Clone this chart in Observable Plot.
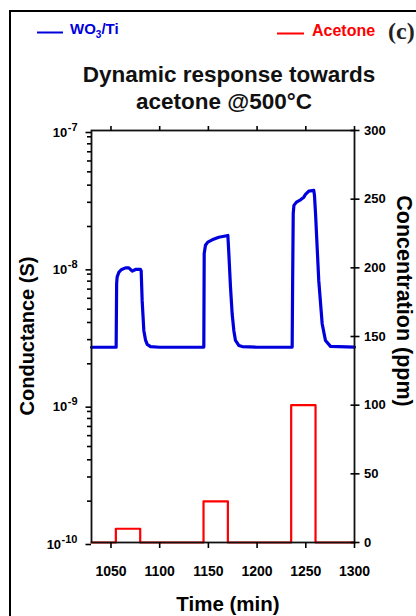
<!DOCTYPE html>
<html><head><meta charset="utf-8">
<script src="https://cdn.jsdelivr.net/npm/d3@7"></script>
<script src="https://cdn.jsdelivr.net/npm/@observablehq/plot@0.6"></script>
<style>
body{margin:0;background:#fff}
#chart{position:relative;width:416px;height:616px;overflow:hidden}
</style>
</head><body><div id="chart"></div>
<script>
// ---- data ----
const timeMin = [1030, 1055.3, 1055.8, 1056.3, 1058.0, 1060.5, 1064.9, 1068.3, 1071.8, 1075.2, 1080.3, 1081.0, 1082.0, 1083.7, 1085.4, 1087.2, 1090.6, 1100, 1120,
  1145.3, 1145.7, 1147.0, 1149.4, 1153.9, 1160.7, 1170.0, 1171.0, 1172.7, 1174.4, 1176.1, 1177.8, 1181.2, 1184.7, 1200, 1220,
  1236.0, 1236.5, 1237.1, 1237.8, 1240.4, 1244.6, 1248.0, 1249.7, 1253.1, 1258.2, 1258.9, 1260.0, 1263.3, 1266.8, 1270.2, 1275.4, 1300];
const conductance = [2.64e-9, 2.64e-9, 7.66e-9, 8.56e-9, 9.26e-9, 9.68e-9, 1.0e-8, 1.0e-8, 9.46e-9, 9.73e-9, 9.73e-9, 9.5e-9, 5.79e-9, 3.5e-9, 2.99e-9, 2.77e-9, 2.67e-9, 2.64e-9, 2.64e-9,
  2.65e-9, 1.27e-8, 1.46e-8, 1.54e-8, 1.6e-8, 1.67e-8, 1.72e-8, 1.27e-8, 7.23e-9, 4.63e-9, 3.5e-9, 2.96e-9, 2.72e-9, 2.67e-9, 2.64e-9, 2.64e-9,
  2.65e-9, 8.1e-9, 2.49e-8, 2.85e-8, 3.01e-8, 3.13e-8, 3.27e-8, 3.43e-8, 3.62e-8, 3.66e-8, 3.37e-8, 2.48e-8, 8.1e-9, 3.92e-9, 2.96e-9, 2.68e-9, 2.65e-9];
const pulseStart = [1055, 1145, 1235];
const pulseEnd = [1080, 1170, 1260];
const pulseConc = [10, 30, 100];   // ppm
const xTicks = [1050, 1100, 1150, 1200, 1250, 1300];
const concTicks = [0, 50, 100, 150, 200, 250, 300];
const decadeExps = [-10, -9, -8, -7];
const minorMultipliers = [2, 3, 4, 5, 6, 7, 8, 9];
const xDomain = [1030, 1300];
const concDomain = [0, 300];

// map ppm onto the log conductance axis (right axis spans the same height)
const gMin = 1e-10, gMax = 1e-7;
const decades = Math.log10(gMax / gMin);
const concToG = c => gMin * Math.pow(10, decades * (c - concDomain[0]) / (concDomain[1] - concDomain[0]));

const blueData = timeMin.map((t, i) => ({t, g: conductance[i]}));
const redData = [{t: xDomain[0], g: concToG(0)}];
pulseStart.forEach((s, i) => {
  redData.push({t: s, g: concToG(0)}, {t: s, g: concToG(pulseConc[i])},
               {t: pulseEnd[i], g: concToG(pulseConc[i])}, {t: pulseEnd[i], g: concToG(0)});
});
redData.push({t: xDomain[1], g: concToG(0)});

const majorTicks = decadeExps.map(e => Math.pow(10, e));
const minorTicks = [];
decadeExps.slice(0, -1).forEach(e => minorMultipliers.forEach(m => minorTicks.push(m * Math.pow(10, e))));

const FONT = "'Liberation Sans', Arial, sans-serif";

const plot = Plot.plot({
  width: 416, height: 616,
  marginTop: 130, marginLeft: 91, marginRight: 62, marginBottom: 74,
  style: {fontFamily: FONT, background: "transparent", color: "#000"},
  x: {domain: xDomain},
  y: {type: "log", domain: [gMin, gMax]},
  marks: [
    Plot.line(redData, {x: "t", y: "g", stroke: "#ff0000", strokeWidth: 2.2}),
    Plot.line(blueData, {x: "t", y: "g", stroke: "#0000dc", strokeWidth: 3.2, strokeLinejoin: "round"}),
    Plot.frame({stroke: "#111", strokeWidth: 1.8}),
    Plot.axisX({anchor: "bottom", ticks: xTicks, tickSize: 6, tickPadding: 18, fontSize: 14, fontWeight: "bold",
                tickFormat: d => String(d), label: null, strokeWidth: 1.6}),
    Plot.axisX({anchor: "top", ticks: xTicks, tickSize: 5, tickFormat: () => "", label: null, strokeWidth: 1.6}),
    Plot.axisY({anchor: "left", ticks: minorTicks, tickSize: 4, tickFormat: () => "", label: null, strokeWidth: 1.6}),
    Plot.axisY({anchor: "left", ticks: majorTicks, tickSize: 5.5, tickPadding: 8.5, fontSize: 13, fontWeight: "bold", dy: 2,
                tickFormat: d => "10^" + Math.round(Math.log10(d)), label: null, strokeWidth: 1.6}),
    Plot.axisY({anchor: "right", ticks: concTicks.map(concToG), tickSize: 9, insetRight: 4.5, tickPadding: 5,
                fontSize: 13, fontWeight: "bold", tickFormat: g => {
                  const c = concDomain[0] + (concDomain[1] - concDomain[0]) * Math.log10(g / gMin) / decades;
                  return String(Math.round(c));
                }, label: null, strokeWidth: 1.6})
  ]
});

// superscripts for the decade labels
d3.select(plot).selectAll('g[aria-label="y-axis tick label"] text').each(function () {
  const t = this.textContent;
  if (t.startsWith("10^")) {
    const exp = t.slice(3);
    const sel = d3.select(this);
    sel.text("10");
    sel.append("tspan").attr("dy", -6).attr("dx", 0.5).attr("font-size", "11px").text(exp);
  }
});

const svg = d3.select(plot);
svg.attr("font-family", FONT);
// outer figure border
svg.append("rect").attr("x", 10).attr("y", 11).attr("width", 600).attr("height", 800)
  .attr("fill", "none").attr("stroke", "#000").attr("stroke-width", 2);

// legend
svg.append("line").attr("x1", 37).attr("x2", 63).attr("y1", 32.5).attr("y2", 32.5)
  .attr("stroke", "#0000dc").attr("stroke-width", 2);
const wo = svg.append("text").attr("x", 70).attr("y", 34).attr("fill", "#0000dc").attr("text-anchor", "start")
  .attr("font-size", 15).attr("font-weight", "bold");
wo.append("tspan").text("WO");
wo.append("tspan").attr("dy", 4).attr("font-size", 10).text("3");
wo.append("tspan").attr("dy", -4).text("/Ti");
svg.append("line").attr("x1", 277).attr("x2", 304).attr("y1", 33.5).attr("y2", 33.5)
  .attr("stroke", "#ff0000").attr("stroke-width", 2);
svg.append("text").attr("x", 312).attr("y", 36).attr("fill", "#ff0000").attr("text-anchor", "start")
  .attr("font-size", 16).attr("font-weight", "bold").text("Acetone");
svg.append("text").attr("x", 388).attr("y", 39).attr("fill", "#222").attr("text-anchor", "start")
  .attr("font-family", "'Liberation Serif', 'DejaVu Serif', serif")
  .attr("font-size", 24).attr("font-weight", "bold").text("(c)");

// title
const title = svg.append("text").attr("text-anchor", "middle").attr("font-size", 22.5)
  .attr("font-weight", "bold").attr("fill", "#111");
title.append("tspan").attr("x", 229).attr("y", 82).text("Dynamic response towards");
title.append("tspan").attr("x", 224).attr("y", 109).text("acetone @500°C");

// axis titles
svg.append("text").attr("transform", "translate(27,336) rotate(-90)").attr("text-anchor", "middle")
  .attr("dy", "0.35em").attr("font-size", 20).attr("font-weight", "bold").text("Conductance (S)");
svg.append("text").attr("transform", "translate(405,301) rotate(90)").attr("text-anchor", "middle")
  .attr("dy", "0.35em").attr("font-size", 21.5).attr("font-weight", "bold").text("Concentration (ppm)");
svg.append("text").attr("x", 228).attr("y", 611).attr("text-anchor", "middle")
  .attr("font-size", 20.5).attr("font-weight", "bold").text("Time (min)");

document.getElementById("chart").appendChild(plot);
</script>
</body></html>
